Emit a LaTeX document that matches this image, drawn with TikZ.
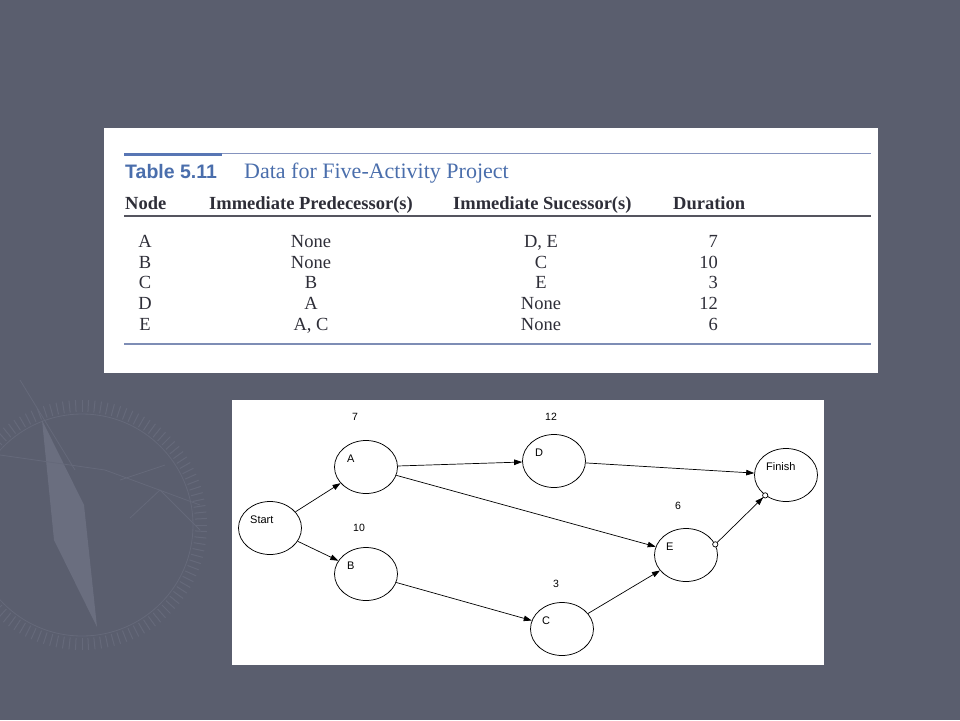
\documentclass[tikz,border=0pt]{standalone}
\usepackage{fontspec}
\setmainfont{Liberation Serif}
\setsansfont{Liberation Sans}
\usetikzlibrary{shapes.geometric,arrows.meta}
\definecolor{slate}{HTML}{5A5E6E}
\definecolor{wm}{HTML}{65697A}
\definecolor{wmneedle}{HTML}{6A6E7F}
\definecolor{tblue}{HTML}{4A6EAC}
\definecolor{tbar}{HTML}{5876B4}
\definecolor{tline}{HTML}{8593BE}
\definecolor{rulegray}{HTML}{7E8DB5}
\definecolor{hdrule}{HTML}{55555F}
\definecolor{ink}{HTML}{2E2E38}
\begin{document}
\begin{tikzpicture}[x=1pt,y=-1pt,
  evt/.style={ellipse, draw=black, line width=0.75pt, minimum width=63pt, minimum height=53pt, inner sep=0pt},
  evtlbl/.style={anchor=base west, inner sep=0pt, font=\sffamily\fontsize{11}{13}\selectfont},
  durlbl/.style={inner sep=0pt, font=\sffamily\fontsize{10.5}{12}\selectfont},
  arr/.style={line width=0.7pt, -{Triangle[length=8pt,width=5.5pt]}},
  hdr/.style={anchor=base west, inner sep=0pt, text=ink, font=\bfseries\fontsize{18.5}{22}\selectfont},
  cell/.style={anchor=base, inner sep=0pt, text=ink, font=\fontsize{18.5}{22}\selectfont},
  cellr/.style={anchor=base east, inner sep=0pt, text=ink, font=\fontsize{18.5}{22}\selectfont}
]
% background
\fill[slate] (0,0) rectangle (960,720);
\useasboundingbox (0,0) rectangle (960,720);
% compass watermark
\foreach \a in {0,3,...,357}
  \draw[wm, line width=1pt] (82,525) ++(\a:113) -- ++(\a:12);
\draw[wm, line width=0.8pt] (82,525) circle[radius=111];
\fill[wmneedle] (42,420) -- (84,505) -- (97,627) -- (54,540) -- cycle;
\draw[wm, line width=0.8pt] (0,455) -- (105,470) -- (200,505);
\draw[wm, line width=0.8pt] (130,518) -- (160,490) -- (200,530);
\draw[wm, line width=0.8pt] (20,380) -- (75,470);
\draw[wm, line width=0.8pt] (120,480) -- (165,465);
% table panel
\fill[white] (104,128) rectangle (878,373);
\draw[tbar, line width=3.5pt] (124,154.5) -- (222,154.5);
\draw[tline, line width=1.1pt] (222,153.5) -- (871,153.5);
\node[anchor=base west, inner sep=0pt, text=tblue, font=\sffamily\bfseries\fontsize{19.5}{22}\selectfont] (tnum) at (125,178.5) {Table 5.11};
\node[anchor=base west, inner sep=0pt, text=tblue, font=\fontsize{22}{26}\selectfont] (ttitle) at (244,178.5) {Data for Five-Activity Project};
\node[hdr] (hnode) at (125,209) {Node};
\node[hdr] (hpred) at (209,209) {Immediate Predecessor(s)};
\node[hdr] (hsucc) at (453,209) {Immediate Sucessor(s)};
\node[hdr] (hdur) at (673,209) {Duration};
\draw[hdrule, line width=1.1pt] (124,216) -- (871,216);
% rows
\node[cell] (r1a) at (145,247.5) {A};
\node[cell] (r1b) at (311,247.5) {None};
\node[cell] (r1c) at (541,247.5) {D, E};
\node[cellr] (r1d) at (718,247.5) {7};
\node[cell] (r2a) at (145,268.2) {B};
\node[cell] (r2b) at (311,268.2) {None};
\node[cell] (r2c) at (541,268.2) {C};
\node[cellr] (r2d) at (718,268.2) {10};
\node[cell] (r3a) at (145,288.9) {C};
\node[cell] (r3b) at (311,288.9) {B};
\node[cell] (r3c) at (541,288.9) {E};
\node[cellr] (r3d) at (718,288.9) {3};
\node[cell] (r4a) at (145,309.6) {D};
\node[cell] (r4b) at (311,309.6) {A};
\node[cell] (r4c) at (541,309.6) {None};
\node[cellr] (r4d) at (718,309.6) {12};
\node[cell] (r5a) at (145,330.3) {E};
\node[cell] (r5b) at (311,330.3) {A, C};
\node[cell] (r5c) at (541,330.3) {None};
\node[cellr] (r5d) at (718,330.3) {6};
\draw[rulegray, line width=1.4pt] (124,344) -- (871,344);
% network panel
\fill[white] (232,400) rectangle (824,665);
\node[evt] (Start) at (270,528) {};
\node[evt] (A) at (366,467) {};
\node[evt] (B) at (366,574) {};
\node[evt] (D) at (554,461) {};
\node[evt] (C) at (562,629) {};
\node[evt] (E) at (686,555) {};
\node[evt] (Finish) at (786,475) {};
\node[evtlbl] (lStart) at ([xshift=-20pt,yshift=4.5pt]Start.center) {Start};
\node[evtlbl] (lA) at ([xshift=-19pt,yshift=4.5pt]A.center) {A};
\node[evtlbl] (lB) at ([xshift=-19pt,yshift=4.5pt]B.center) {B};
\node[evtlbl] (lD) at ([xshift=-19pt,yshift=4.5pt]D.center) {D};
\node[evtlbl] (lC) at ([xshift=-20pt,yshift=4.5pt]C.center) {C};
\node[evtlbl] (lE) at ([xshift=-20pt,yshift=4.5pt]E.center) {E};
\node[evtlbl] (lFinish) at ([xshift=-20pt,yshift=4.5pt]Finish.center) {Finish};
\node[durlbl] (dA) at (355,417) {7};
\node[durlbl] (dB) at (359,528) {10};
\node[durlbl] (dD) at (551,417) {12};
\node[durlbl] (dE) at (678,506) {6};
\node[durlbl] (dC) at (556,584) {3};
\draw[arr] (Start) -- (A);
\draw[arr] (Start) -- (B);
\draw[arr] (A) -- (D);
\draw[arr] (A) -- (E);
\draw[arr] (B) -- (C);
\draw[arr] (C) -- (E);
\draw[arr] (D) -- (Finish);
\draw[line width=0.7pt, shorten <=-3pt, shorten >=-3pt, {Circle[open,length=6pt,fill=white]}-{Triangle[length=8pt,width=5.5pt]Circle[open,length=6pt,fill=white]}] (E.20) -- (Finish);
\end{tikzpicture}
\end{document}
